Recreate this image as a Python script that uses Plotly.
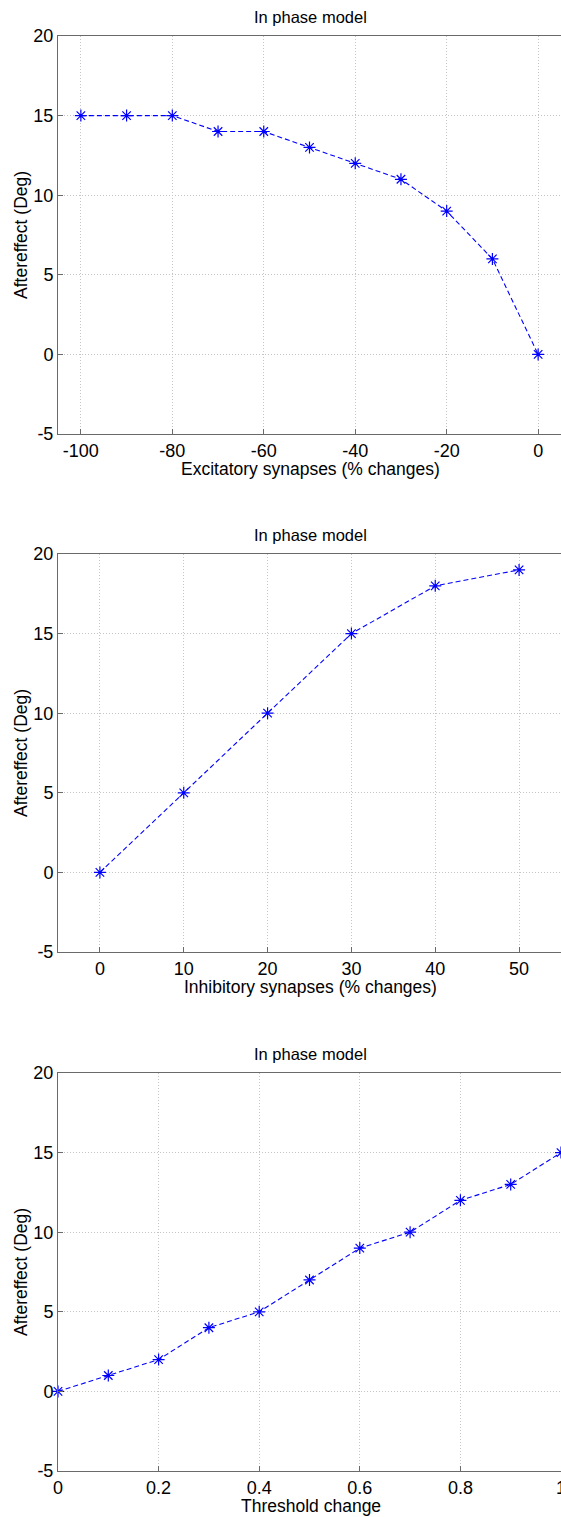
import plotly.graph_objects as go

# ---- data ----
exc_x = [-100, -90, -80, -70, -60, -50, -40, -30, -20, -10, 0]
exc_y = [15, 15, 15, 14, 14, 13, 12, 11, 9, 6, 0]

inh_x = [0, 10, 20, 30, 40, 50]
inh_y = [0, 5, 10, 15, 18, 19]

thr_x = [0, 0.1, 0.2, 0.3, 0.4, 0.5, 0.6, 0.7, 0.8, 0.9, 1.0]
thr_y = [0, 1, 2, 4, 5, 7, 9, 10, 12, 13, 15]

titles = ["In phase model", "In phase model", "In phase model"]
xlabels = ["Excitatory synapses (% changes)", "Inhibitory synapses (% changes)", "Threshold change"]
ylabel = "Aftereffect (Deg)"

x_ticks = [[-100, -80, -60, -40, -20, 0],
           [0, 10, 20, 30, 40, 50],
           [0, 0.2, 0.4, 0.6, 0.8, 1]]
x_ticktext = [["-100", "-80", "-60", "-40", "-20", "0"],
              ["0", "10", "20", "30", "40", "50"],
              ["0", "0.2", "0.4", "0.6", "0.8", "1"]]
x_ranges = [[-105, 5], [-5, 55], [0, 1]]
y_ticks = [-5, 0, 5, 10, 15, 20]
y_ticktext = ["-5", "0", "5", "10", "15", "20"]

W, H = 561, 1517
FONT = "Liberation Sans, Arial, sans-serif"
AX = "#6a6a6a"
GRID = "#c4c4c4"

# pixel layout (top, bottom) of each plot area
rows_px = [(36, 434), (554, 952), (1073, 1471)]
left_px = 58
right_px = 563

fig = go.Figure()
series = [(exc_x, exc_y), (inh_x, inh_y), (thr_x, thr_y)]
annotations = []
for i, (xs, ys) in enumerate(series):
    n = "" if i == 0 else str(i + 1)
    fig.add_trace(go.Scatter(
        x=xs, y=ys, xaxis="x" + n, yaxis="y" + n,
        mode="lines+markers",
        line=dict(color="#0000ff", width=1.1, dash="5px,3px"),
        marker=dict(symbol="asterisk-open", size=10, color="#0000ff",
                    line=dict(color="#0000ff", width=1.2)),
        showlegend=False, cliponaxis=False,
    ))
    top, bot = rows_px[i]
    ydom = [1 - bot / H, 1 - top / H]
    common = dict(
        showline=True, linecolor=AX, linewidth=1, mirror=True,
        ticks="inside", ticklen=5, tickcolor=AX,
        showgrid=True, gridcolor=GRID, griddash="1px,2px", gridwidth=1,
        zeroline=False, ticklabeloverflow="allow", automargin=False,
        tickfont=dict(family=FONT, size=18, color="#000000"),
    )
    fig.layout["xaxis" + n] = dict(
        common, domain=[left_px / W, 1], range=x_ranges[i],
        tickmode="array", tickvals=x_ticks[i], ticktext=x_ticktext[i],
        anchor="y" + n,
    )
    ycommon = dict(common)
    ycommon["mirror"] = False
    fig.layout["yaxis" + n] = dict(
        ycommon, domain=ydom, range=[-5, 20],
        tickmode="array", tickvals=y_ticks, ticktext=y_ticktext,
        anchor="x" + n,
    )
    # subplot title
    annotations.append(dict(
        text=titles[i], xref="paper", yref="paper",
        x=(left_px + right_px) / 2 / W, y=1 - (top - 19) / H,
        xanchor="center", yanchor="middle", showarrow=False,
        font=dict(family=FONT, size=16.5, color="#000000"),
    ))
    # x-axis title
    annotations.append(dict(
        text=xlabels[i], xref="paper", yref="paper",
        x=(left_px + right_px) / 2 / W, y=1 - (bot + 35) / H,
        xanchor="center", yanchor="middle", showarrow=False,
        font=dict(family=FONT, size=17.5, color="#000000"),
    ))
    # y-axis title
    annotations.append(dict(
        text=ylabel, xref="paper", yref="paper", textangle=-90,
        x=21 / W, y=1 - (top + bot) / 2 / H,
        xanchor="center", yanchor="middle", showarrow=False,
        font=dict(family=FONT, size=17.5, color="#000000"),
    ))

fig.update_layout(
    width=W, height=H,
    margin=dict(l=0, r=0, t=0, b=0),
    paper_bgcolor="white", plot_bgcolor="white",
    annotations=annotations,
)

fig.write_html("out.html")
